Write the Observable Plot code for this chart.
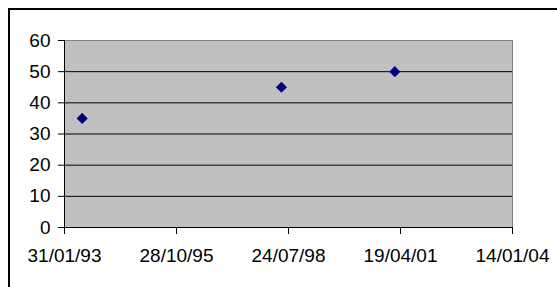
<!DOCTYPE html>
<html>
<head>
<meta charset="utf-8">
<script src="https://cdn.jsdelivr.net/npm/d3@7"></script>
<script src="https://cdn.jsdelivr.net/npm/@observablehq/plot@0.6"></script>
<style>
  html, body { margin: 0; padding: 0; background: #fff; overflow: hidden; }
  #wrap { position: relative; width: 557px; height: 287px; overflow: hidden; }
  #border { position: absolute; left: 8px; top: 8px; width: 700px; height: 500px; border: 2px solid #000; pointer-events: none; }
  #chart { position: absolute; left: 0; top: 0; }
</style>
</head>
<body>
<div id="wrap"><div id="border"></div><div id="chart"></div></div>
<script>
const dates = ["1993-07-08", "1998-05-22", "2001-02-27"];
const values = [35, 45, 50];
const xTicks = ["1993-01-31", "1995-10-28", "1998-07-24", "2001-04-19", "2004-01-14"];
const xTickLabels = ["31/01/93", "28/10/95", "24/07/98", "19/04/01", "14/01/04"];
const yTicks = [0, 10, 20, 30, 40, 50, 60];

const points = dates.map((d, i) => ({date: new Date(d), value: values[i]}));
const xTickDates = xTicks.map(d => new Date(d));

const chart = Plot.plot({
  width: 557,
  height: 287,
  marginLeft: 64,
  marginRight: 45,
  marginTop: 40,
  marginBottom: 60,
  style: {fontFamily: "'Liberation Sans', Arial, sans-serif", fontSize: "19px", color: "#000", background: "transparent"},
  x: {type: "utc", domain: [xTickDates[0], xTickDates[xTickDates.length - 1]]},
  y: {domain: [yTicks[0], yTicks[yTicks.length - 1]]},
  marks: [
    Plot.frame({fill: "#c0c0c0", stroke: "#808080"}),
    Plot.gridY(yTicks.slice(1, -1), {stroke: "#000", strokeOpacity: 1}),
    Plot.ruleX([xTickDates[0]], {stroke: "#000"}),
    Plot.ruleY([yTicks[0]], {stroke: "#000"}),
    Plot.axisY(yTicks, {tickSize: 6, tickPadding: 8, label: null, fontSize: 19, stroke: "#000"}),
    Plot.axisX(xTickDates, {tickSize: 7, tickPadding: 14, label: null, fontSize: 19, stroke: "#000",
      tickFormat: (d) => xTickLabels[xTickDates.findIndex(t => +t === +d)]}),
    Plot.dot(points, {x: "date", y: "value", symbol: "diamond2", r: 5, fill: "#000080", stroke: null})
  ]
});
document.getElementById("chart").appendChild(chart);
</script>
</body>
</html>
